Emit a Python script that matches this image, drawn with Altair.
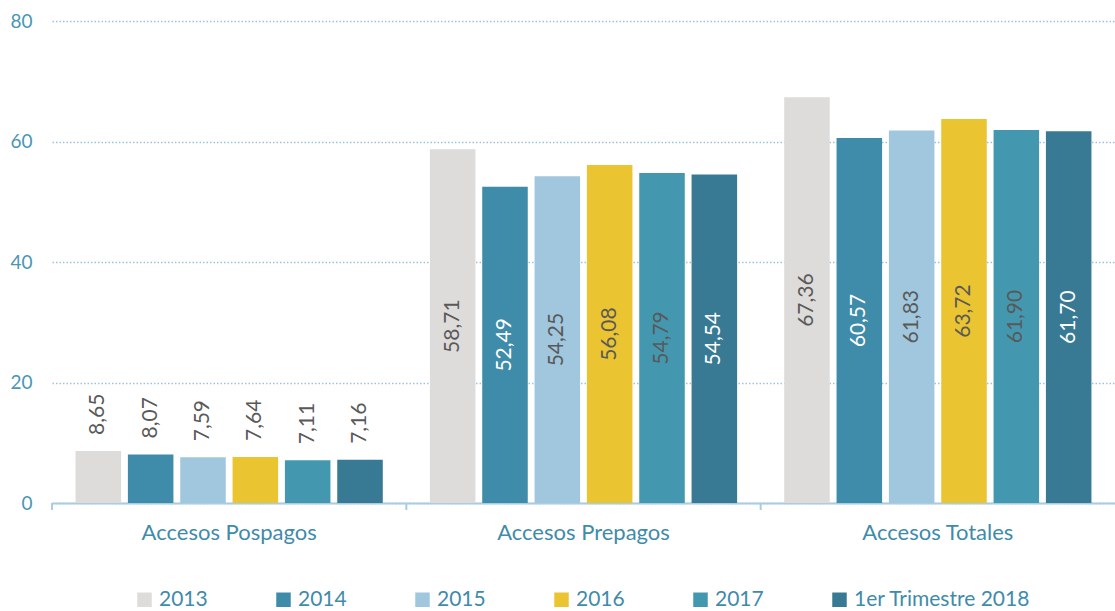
import altair as alt
import pandas as pd

categories = ["Accesos Pospagos", "Accesos Prepagos", "Accesos Totales"]
years = ["2013", "2014", "2015", "2016", "2017", "1er Trimestre 2018"]
pospago = [8.65, 8.07, 7.59, 7.64, 7.11, 7.16]
prepago = [58.71, 52.49, 54.25, 56.08, 54.79, 54.54]
totales = [67.36, 60.57, 61.83, 63.72, 61.90, 61.70]
bar_colors = ["#DEDCDA", "#3F8BAA", "#A0C7DD", "#EBC431", "#4398AF", "#387A93"]

rows = []
for cat, vals in zip(categories, [pospago, prepago, totales]):
    for y, v in zip(years, vals):
        rows.append({"cat": cat, "year": y, "value": v})
df = pd.DataFrame(rows)

FONT = "Lato"
BLUE = "#3F8BAA"
AXIS = "#A9CCE0"

x_enc = alt.X("cat:N", sort=categories,
              scale=alt.Scale(paddingInner=0, paddingOuter=0),
              axis=alt.Axis(title=None, labelFont=FONT, labelFontSize=22,
                            labelColor=BLUE, ticks=False, tickSize=0,
                            labelPadding=19, domainColor=AXIS, domainWidth=2,
                            grid=False, labelAngle=0))
xo_enc = alt.XOffset("year:N", sort=years,
                     scale=alt.Scale(paddingInner=0.13, paddingOuter=0.45))
y_scale = alt.Scale(domain=[0, 80], nice=False)

base = alt.Chart(df)

bars = base.mark_bar().encode(
    x=x_enc,
    xOffset=xo_enc,
    y=alt.Y("value:Q", scale=y_scale,
            axis=alt.Axis(title=None, values=[0, 20, 40, 60, 80], labelFont=FONT,
                          labelFontSize=19, labelColor="#4A96B5", ticks=False,
                          domain=False, labelPadding=20, gridColor="#9CC3DC",
                          gridDash=[1.5, 2], gridWidth=1.5)),
    color=alt.Color("year:N", sort=years,
                    scale=alt.Scale(domain=years, range=bar_colors),
                    legend=alt.Legend(title=None, orient="none", legendX=82,
                                      legendY=568, direction="horizontal",
                                      columns=6, symbolType="square",
                                      symbolSize=210, symbolStrokeWidth=0,
                                      labelFont=FONT, labelFontSize=21,
                                      labelColor=BLUE, labelOffset=4,
                                      columnPadding=65, labelLimit=300)),
)

labels_in = base.transform_filter(
    alt.datum.cat != "Accesos Pospagos"
).transform_calculate(
    half="datum.value / 2",
    lab="replace(format(datum.value, '.2f'), '.', ',')",
).mark_text(angle=270, align="center", baseline="middle", font=FONT,
            fontSize=21).encode(
    x=alt.X("cat:N", sort=categories),
    xOffset=alt.XOffset("year:N", sort=years),
    y=alt.Y("half:Q"),
    text="lab:N",
    color=alt.condition(
        "datum.year == '2014' || datum.year == '1er Trimestre 2018'",
        alt.value("white"), alt.value("#595959")),
)

labels_out = base.transform_filter(
    alt.datum.cat == "Accesos Pospagos"
).transform_calculate(
    lab="replace(format(datum.value, '.2f'), '.', ',')",
).mark_text(angle=270, align="left", baseline="middle", font=FONT,
            fontSize=21, dx=16, color="#595959").encode(
    x=alt.X("cat:N", sort=categories),
    xOffset=alt.XOffset("year:N", sort=years),
    y=alt.Y("value:Q"),
    text="lab:N",
)

ticks_df = pd.DataFrame({"cat": categories})
edge_ticks = alt.Chart(ticks_df).mark_rule(color=AXIS, strokeWidth=2).encode(
    x=alt.X("cat:N", sort=categories, bandPosition=0),
    y=alt.value(482),
    y2=alt.value(489),
)

chart = alt.layer(bars, labels_in, labels_out, edge_ticks).properties(
    width=1063, height=482,
    autosize=alt.AutoSizeParams(type="none"),
    padding={"left": 52, "top": 21, "right": 0, "bottom": 108},
).configure_view(stroke=None)

chart.save("out.html", embed_options={"renderer": "svg", "actions": False})
